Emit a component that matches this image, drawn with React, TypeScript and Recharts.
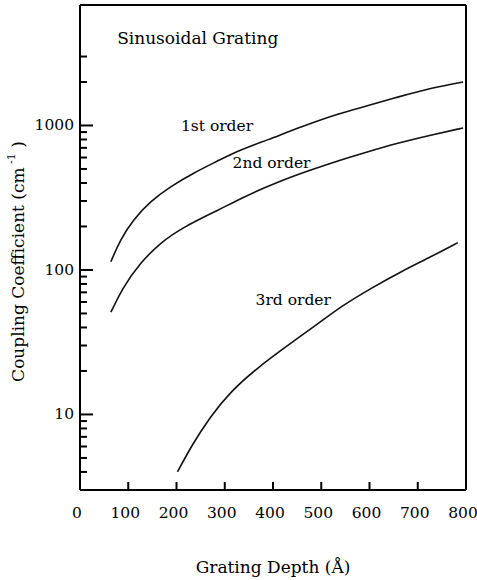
import React from 'react';
import { LineChart, Line, XAxis, YAxis, ReferenceDot, ReferenceLine } from 'recharts';

// Grating depth (Å) and coupling coefficient (cm^-1) for each diffraction order
const depth1 = [64, 83, 110, 145, 187, 235, 287, 326, 389, 457, 540, 588, 659, 727, 794];
const order1 = [114, 161, 222, 297, 377, 469, 571, 666, 794, 976, 1220, 1343, 1575, 1817, 2000];
const depth2 = [64, 89, 125, 166, 214, 287, 339, 409, 478, 540, 588, 659, 727, 794];
const order2 = [51, 76, 112, 154, 198, 260, 320, 406, 492, 577, 645, 757, 859, 961];
const depth3 = [202, 232, 270, 312, 367, 422, 495, 540, 603, 665, 728, 783];
const order3 = [4.0, 6.15, 9.66, 14.4, 20.9, 28.7, 42.8, 55.7, 74.7, 97.3, 123.6, 154.5];

const xTicks = [0, 100, 200, 300, 400, 500, 600, 700, 800];
const xTickMarks = [100, 200, 300, 400, 500, 600, 700];
const yTicks = [4, 5, 6, 7, 8, 9, 10, 20, 30, 40, 50, 60, 70, 80, 90, 100, 200, 300, 400, 500, 600, 700, 800, 900, 1000, 2000, 3000];
const yMajor = [10, 100, 1000];
const xDomain = [0, 800];
const yDomain = [3, 6820];

const annotations = [
  { text: 'Sinusoidal Grating', x: 244, y: 4033, size: 17 },
  { text: '1st order', x: 284, y: 992, size: 15.5 },
  { text: '2nd order', x: 397, y: 550, size: 15.5 },
  { text: '3rd order', x: 442, y: 62, size: 15.5 },
];

const toData = (xs: number[], ys: number[]) => xs.map((d, i) => ({ d, v: ys[i] }));
const data1 = toData(depth1, order1);
const data2 = toData(depth2, order2);
const data3 = toData(depth3, order3);

const frame = { stroke: '#000', strokeWidth: 2 };

const renderYTick = (p: any) => {
  const v = p.payload.value;
  const major = yMajor.includes(v);
  return (
    <g>
      <line x1={p.x} x2={p.x + (major ? 13 : 7)} y1={p.y} y2={p.y} stroke="#000" strokeWidth={2} />
      {major && (
        <text x={p.x - 6} y={p.y} textAnchor="end" dominantBaseline="central" fontSize={15.5} fill="#000">
          {v}
        </text>
      )}
    </g>
  );
};

const renderXTick = (p: any) => {
  const v = p.payload.value;
  return (
    <g>
      {xTickMarks.includes(v) && <line x1={p.x} x2={p.x} y1={p.y} y2={p.y - 8} stroke="#000" strokeWidth={2} />}
      <text x={p.x - 3} y={p.y + 23} textAnchor="middle" dominantBaseline="central" fontSize={15.5} fill="#000">
        {v}
      </text>
    </g>
  );
};

const YTitle = (props: any) => {
  const vb = props.viewBox || { x: 0, y: 5, width: 80, height: 485 };
  const cx = 18;
  const cy = vb.y + vb.height / 2 + 14;
  return (
    <text
      x={cx}
      y={cy}
      textAnchor="middle"
      dominantBaseline="central"
      fontSize={17}
      fill="#000"
      transform={`rotate(-90 ${cx} ${cy})`}
    >
      Coupling Coefficient (cm
      <tspan dy={-7} fontSize={11}> -1</tspan>
      <tspan dy={7}> )</tspan>
    </text>
  );
};

const XTitle = (props: any) => {
  const vb = props.viewBox || { x: 80, y: 490, width: 386, height: 90 };
  const cx = vb.x + vb.width / 2;
  const cy = vb.y + 77;
  return (
    <text x={cx} y={cy} textAnchor="middle" dominantBaseline="central" fontSize={17} fill="#000">
      Grating Depth (Å)
    </text>
  );
};

export default function App() {
  return (
    <div style={{ position: 'absolute', left: 0, top: 0, fontFamily: '"DejaVu Serif", serif' }}>
      <LineChart width={477} height={580} margin={{ top: 5, right: 11, left: 0, bottom: 0 }}>
        <XAxis
          dataKey="d"
          type="number"
          domain={xDomain}
          ticks={xTicks}
          interval={0}
          allowDataOverflow
          axisLine={frame}
          tickLine={false}
          tickSize={0}
          tickMargin={0}
          height={90}
          tick={renderXTick}
          label={XTitle}
        />
        <YAxis
          dataKey="v"
          type="number"
          scale="log"
          domain={yDomain}
          ticks={yTicks}
          interval={0}
          allowDataOverflow
          axisLine={frame}
          tickLine={false}
          tickSize={0}
          tickMargin={0}
          width={80}
          tick={renderYTick}
          label={YTitle}
        />
        <ReferenceLine y={yDomain[1]} stroke="#000" strokeWidth={2} ifOverflow="visible" />
        <ReferenceLine x={xDomain[1]} stroke="#000" strokeWidth={2} ifOverflow="visible" />
        <Line data={data1} dataKey="v" type="basis" stroke="#111" strokeWidth={1.6} dot={false} isAnimationActive={false} />
        <Line data={data2} dataKey="v" type="basis" stroke="#111" strokeWidth={1.6} dot={false} isAnimationActive={false} />
        <Line data={data3} dataKey="v" type="basis" stroke="#111" strokeWidth={1.6} dot={false} isAnimationActive={false} />
        {annotations.map((a) => (
          <ReferenceDot
            key={a.text}
            x={a.x}
            y={a.y}
            r={0}
            fill="none"
            stroke="none"
            label={{ value: a.text, position: 'center', fill: '#000', fontSize: a.size }}
          />
        ))}
      </LineChart>
    </div>
  );
}
